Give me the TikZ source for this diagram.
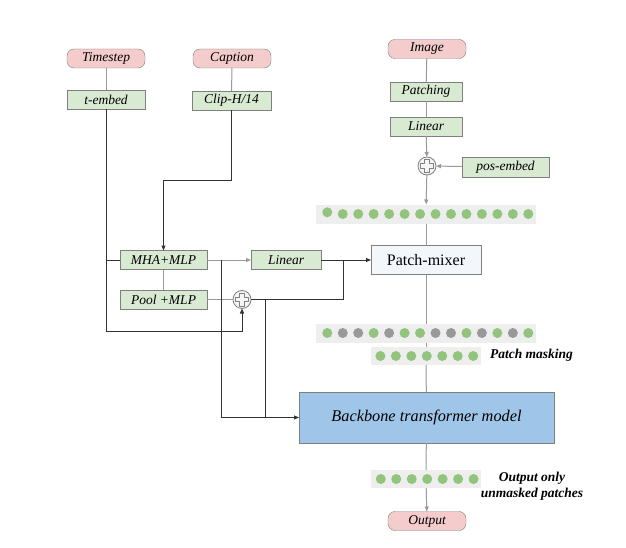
\documentclass[tikz,border=0pt]{standalone}
\usepackage{fontspec}
\setmainfont{Liberation Serif}
\usetikzlibrary{arrows.meta,calc}
\definecolor{pinkfill}{HTML}{F4CCCC}
\definecolor{greenfill}{HTML}{D9EAD3}
\definecolor{bluefill}{HTML}{9FC5E8}
\definecolor{mixfill}{HTML}{F3F7FC}
\definecolor{dotgreen}{HTML}{93C47D}
\definecolor{dotgray}{HTML}{999999}
\definecolor{rowbg}{HTML}{EEEEEE}
\definecolor{edge}{HTML}{7F7F7F}
\definecolor{lgray}{HTML}{9A9A9A}
\definecolor{dline}{HTML}{333333}
\begin{document}
\begin{tikzpicture}[x=1pt,y=-1pt,
  every node/.style={inner sep=0pt, outer sep=0pt},
  lbl/.style={font=\fontsize{13.5}{15}\selectfont\itshape},
  pill/.style={lbl, draw=edge, fill=pinkfill, rounded corners=7pt, minimum width=78pt, minimum height=19pt},
  gbox/.style={lbl, draw=edge, fill=greenfill, minimum height=19pt},
  rowbox/.style={fill=rowbg, minimum height=19pt},
  plusnode/.style={circle, draw=edge, fill=black!4, minimum size=18pt, line width=0.8pt},
  crossmark/.pic={\draw[edge, line width=0.8pt, line join=round] (-2.2,-6.5) -- (2.2,-6.5) -- (2.2,-2.2) -- (6.5,-2.2) -- (6.5,2.2) -- (2.2,2.2) -- (2.2,6.5) -- (-2.2,6.5) -- (-2.2,2.2) -- (-6.5,2.2) -- (-6.5,-2.2) -- (-2.2,-2.2) -- cycle;},
  gl/.style={draw=lgray, line width=1pt},
  dl/.style={draw=dline, line width=1pt},
  garr/.style={gl, -{Triangle[length=5pt,width=4pt]}},
  darr/.style={dl, -{Triangle[length=5pt,width=4pt]}},
  note/.style={font=\fontsize{13.5}{16.3}\selectfont\bfseries\itshape, align=center}
]
\useasboundingbox (0,0) rectangle (626,548);

% inputs
\node[pill] (ts) at (106,58.5) {Timestep};
\node[pill] (cap) at (232,58.5) {Caption};
\node[pill] (img) at (427,49) {Image};
\node[pill] (out) at (427,521) {Output};

\node[gbox, minimum width=78pt] (temb) at (106,99.5) {t-embed};
\node[gbox, minimum width=79pt] (clip) at (231.5,100.5) {Clip-H/14};
\node[gbox, minimum width=72pt] (patching) at (426,91.5) {Patching};
\node[gbox, minimum width=72pt] (lin1) at (426,126.5) {Linear};
\node[plusnode] (p1) at (427,166) {};
\pic at (p1) {crossmark};
\node[gbox, minimum width=87pt, minimum height=20pt] (pos) at (505.5,167) {pos-embed};

% token rows
\node[rowbox, minimum width=220pt] (r1) at (426,214) {};
\node[rowbox, minimum width=220pt] (r2) at (426,333) {};
\node[rowbox, minimum width=110pt, minimum height=18pt] (r3) at (426,356) {};
\node[rowbox, minimum width=110pt, minimum height=18pt] (r4) at (426,479) {};

\fill[dotgreen] (327.3,212.3) circle (5pt);
\foreach \k in {1,...,13} \fill[dotgreen] (327.3+15.46*\k,214) circle (5pt);
\foreach \c [count=\k from 0] in {dotgreen,dotgray,dotgray,dotgreen,dotgray,dotgreen,dotgreen,dotgray,dotgray,dotgreen,dotgray,dotgreen,dotgray,dotgreen}
  \fill[\c] (327.3+15.46*\k,333) circle (5pt);
\foreach \k in {0,...,6} \fill[dotgreen] (380.4+15.46*\k,356) circle (5pt);
\foreach \k in {0,...,6} \fill[dotgreen] (380.8+15.46*\k,479) circle (5pt);

% middle blocks
\node[draw=edge, fill=mixfill, minimum width=110pt, minimum height=29pt, font=\fontsize{16}{18}\selectfont] (mix) at (426,260) {Patch-mixer};
\node[gbox, minimum width=87pt] (mha) at (163.5,260) {MHA+MLP};
\node[gbox, minimum width=70pt] (lin2) at (286,260) {Linear};
\node[gbox, minimum width=87pt] (pool) at (163.5,299.5) {Pool +MLP};
\node[plusnode] (p2) at (242,299.5) {};
\pic at (p2) {crossmark};

\node[draw=edge, fill=bluefill, minimum width=255pt, minimum height=51pt, font=\fontsize{16.3}{18}\selectfont\itshape] (bb) at (426.5,417.5) {Backbone transformer model};

% notes
\node[note, anchor=west] (pm) at (490,355) {Patch masking};
\node[note] (oo) at (532,486) {Output only\\unmasked patches};

% junction coordinates
\coordinate (cj) at (231.5,181);
\coordinate (tj) at (106,260);
\coordinate (tb) at (106,331);
\coordinate (mj) at (221,260);
\coordinate (bj) at (221,417.5);
\coordinate (lj) at (343,260);
\coordinate (pj) at (265,299.5);
\coordinate (pb) at (265,417.5);

% connectors
\draw[gl] (ts) -- (temb);
\draw[gl] (cap) -- (clip);
\draw[gl] (img) -- (patching);
\draw[gl] (patching) -- (lin1);
\draw[garr] (lin1) -- (p1);
\draw[garr] (pos) -- (p1);
\draw[garr] (p1) -- (r1);
\draw[gl] (r1) -- (mix);
\draw[gl] (mix) -- (r2);
\draw[gl] (r2) -- (r3);
\draw[gl] (r3) -- (bb);
\draw[gl] (bb) -- (r4);
\draw[garr] (r4) -- (out);

\draw[darr] (clip) -- (cj) -| (mha.north);
\draw[darr] (temb) -- (tb) -| (p2.south);
\draw[dl] (tj) -- (mha.west);
\draw[garr] (mha) -- (lin2);
\draw[gl] (mha) -- (pool);
\draw[gl] (pool) -- (p2);
\draw[darr] (lin2) -- (mix);
\draw[dl] (p2.east) -| (lj);
\draw[darr] (mj) -- (bj) -- (bb.west);
\draw[dl] (pj) -- (pb);
\end{tikzpicture}
\end{document}
